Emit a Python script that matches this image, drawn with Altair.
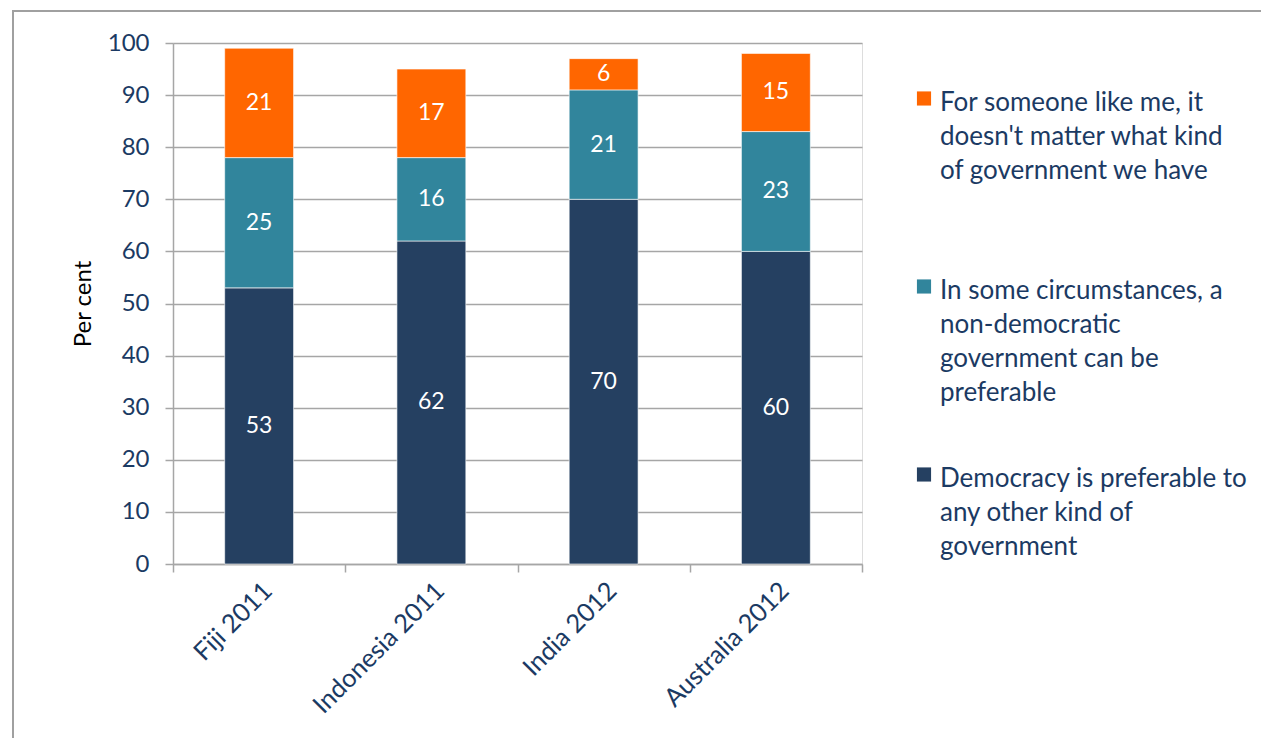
import json
import altair as alt
import pandas as pd

countries = ["Fiji 2011", "Indonesia 2011", "India 2012", "Australia 2012"]
democracy = [53, 62, 70, 60]
non_democratic = [25, 16, 21, 23]
no_matter = [21, 17, 6, 15]

series = [
    "For someone like me, it doesn't matter what kind of government we have",
    "In some circumstances, a non-democratic government can be preferable",
    "Democracy is preferable to any other kind of government",
]
legend_lines = [
    ["For someone like me, it", "doesn't matter what kind", "of government we have"],
    ["In some circumstances, a", "non-democratic", "government can be", "preferable"],
    ["Democracy is preferable to", "any other kind of", "government"],
]
colors = ["#FF6600", "#31859C", "#254061"]
stack_rank = [2, 1, 0]
values_by_series = [no_matter, non_democratic, democracy]

rows = []
for s, r, vals in zip(series, stack_rank, values_by_series):
    for c, v in zip(countries, vals):
        rows.append({"country": c, "series": s, "rank": r, "value": v})
df = pd.DataFrame(rows)

label_expr = " : ".join(
    f"datum.label == {json.dumps(s)} ? {json.dumps(l)}" for s, l in zip(series, legend_lines)
) + " : datum.label"

FONT = "Lato"
NAVY_TXT = "#1B3A63"
GRID = "#A6A6A6"

base = alt.Chart(df).transform_stack(
    stack="value",
    groupby=["country"],
    sort=[alt.SortField("rank", order="ascending")],
    as_=["y0", "y1"],
).transform_calculate(mid="(datum.y0 + datum.y1) / 2")

x_enc = alt.X(
    "country:N",
    sort=countries,
    title=None,
    scale=alt.Scale(paddingInner=0, paddingOuter=0),
    axis=alt.Axis(
        labelAngle=-45,
        labelFont=FONT,
        labelFontSize=25.5,
        labelColor=NAVY_TXT,
        labelPadding=6,
        tickBand="extent",
        tickSize=8,
        tickColor=GRID,
        tickWidth=1.5,
        domainColor=GRID,
        domainWidth=1.5,
        grid=False,
    ),
)

bars = base.mark_bar(
    stroke="white", strokeWidth=0.6, width=alt.RelativeBandSize(0.4)
).encode(
    x=x_enc,
    y=alt.Y(
        "y0:Q",
        scale=alt.Scale(domain=[0, 100]),
        title="Per cent",
        axis=alt.Axis(
            values=list(range(0, 101, 10)),
            labelFont=FONT,
            labelFontSize=24,
            labelColor=NAVY_TXT,
            labelPadding=16,
            tickSize=8,
            tickColor=GRID,
            tickWidth=1.5,
            domainColor=GRID,
            domainWidth=1.5,
            gridColor=GRID,
            gridWidth=1.5,
            titleFont=FONT,
            titleFontSize=24,
            titleFontWeight="normal",
            titleColor="black",
            titlePadding=12,
        ),
    ),
    y2="y1:Q",
    color=alt.Color(
        "series:N",
        scale=alt.Scale(domain=series, range=colors),
        legend=alt.Legend(
            title=None,
            orient="none",
            legendX=738,
            legendY=34,
            symbolType="M-1,0.2H1V2.2H-1Z",
            symbolSize=200,
            symbolStrokeWidth=0,
            labelFont=FONT,
            labelFontSize=26,
            labelColor=NAVY_TXT,
            labelLimit=400,
            labelOffset=3,
            labelBaseline="top",
            labelExpr=label_expr,
            rowPadding=47,
            gridAlign="all",
        ),
    ),
    order=alt.Order("rank:Q"),
)

texts = base.mark_text(font=FONT, fontSize=23, color="white", baseline="middle").encode(
    x=alt.X("country:N", sort=countries),
    y=alt.Y("mid:Q"),
    text=alt.Text("value:Q"),
)

frame = alt.Chart(pd.DataFrame({"f": [0]})).mark_rect(
    fill=None, stroke="#A0A0A0", strokeWidth=2
).encode(
    x=alt.value(-160), x2=alt.value(1094), y=alt.value(-32), y2=alt.value(730)
)

chart = alt.layer(frame, bars, texts).properties(
    width=689,
    height=521,
    autosize=alt.AutoSizeParams(type="none"),
    padding={"left": 165, "top": 35, "right": 399, "bottom": 174},
).configure_view(stroke=None).configure(
    style={"guide-label": {"lineHeight": 34}}
)

chart.save("out.html", embed_options={"renderer": "svg", "actions": False})
